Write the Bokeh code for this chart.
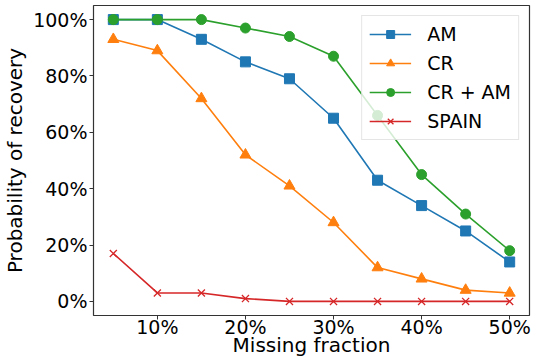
from bokeh.plotting import figure
from bokeh.models import NumeralTickFormatter, FixedTicker, Range1d, Legend, LegendItem
from bokeh.embed import file_html
from bokeh.resources import INLINE

missing = [0.05, 0.10, 0.15, 0.20, 0.25, 0.30, 0.35, 0.40, 0.45, 0.50]
am = [1.00, 1.00, 0.93, 0.85, 0.79, 0.65, 0.43, 0.34, 0.25, 0.14]
cr = [0.93, 0.89, 0.72, 0.52, 0.41, 0.28, 0.12, 0.08, 0.04, 0.03]
cr_am = [1.00, 1.00, 1.00, 0.97, 0.94, 0.87, 0.66, 0.45, 0.31, 0.18]
spain = [0.17, 0.03, 0.03, 0.01, 0.00, 0.00, 0.00, 0.00, 0.00, 0.00]
x_ticks = [0.1, 0.2, 0.3, 0.4, 0.5]
y_ticks = [0.0, 0.2, 0.4, 0.6, 0.8, 1.0]

FONT = "DejaVu Sans"

p = figure(width=533, height=360, output_backend="svg", toolbar_location=None,
           x_range=Range1d(0.0275, 0.5225), y_range=Range1d(-0.05, 1.05),
           min_border_left=93, min_border_right=4, min_border_top=5, min_border_bottom=45)

p.xgrid.visible = False
p.ygrid.visible = False
p.outline_line_color = "#333333"
p.outline_line_width = 1.2

for ax in (p.xaxis[0], p.yaxis[0]):
    ax.major_label_text_font = FONT
    ax.major_label_text_font_size = "19px"
    ax.major_label_text_color = "black"
    ax.axis_label_text_font = FONT
    ax.axis_label_text_font_size = "20px"
    ax.axis_label_text_font_style = "normal"
    ax.axis_label_text_color = "black"
    ax.axis_line_color = None
    ax.minor_tick_line_color = None
    ax.major_tick_line_color = "#333333"
    ax.major_tick_out = 4
    ax.major_tick_in = 0
    ax.formatter = NumeralTickFormatter(format="0%")

p.xaxis.ticker = FixedTicker(ticks=x_ticks)
p.yaxis.ticker = FixedTicker(ticks=y_ticks)
p.xaxis.axis_label = "Missing fraction"
p.yaxis.axis_label = "Probability of recovery"
p.xaxis.axis_label_standoff = -8
p.yaxis.axis_label_standoff = 3
p.xaxis.major_label_standoff = -4
p.yaxis.major_label_standoff = 2

series = [
    ("AM", am, "#1f77b4", "square", 10),
    ("CR", cr, "#ff7f0e", "triangle", 11),
    ("CR + AM", cr_am, "#2ca02c", "circle", 10),
    ("SPAIN", spain, "#d62728", "x", 10),
]

items = []
for name, ys, color, marker, size in series:
    l = p.line(missing, ys, line_color=color, line_width=1.6)
    if marker == "x":
        s = p.scatter(missing, ys, marker=marker, size=size, line_color=color, line_width=1.3)
    else:
        s = p.scatter(missing, ys, marker=marker, size=size, fill_color=color, line_color=color)
    items.append(LegendItem(label=name, renderers=[l, s]))

legend = Legend(items=items, location="top_right")
legend.label_text_font = FONT
legend.label_text_font_size = "19px"
legend.label_text_color = "black"
legend.glyph_width = 42
legend.glyph_height = 20
legend.label_height = 20
legend.spacing = 7
legend.padding = 7
legend.margin = 10
legend.label_standoff = 16
legend.border_line_color = "#cccccc"
legend.border_line_width = 1
legend.background_fill_alpha = 0.8
p.add_layout(legend)

open("out.html", "w").write(file_html(p, INLINE))
